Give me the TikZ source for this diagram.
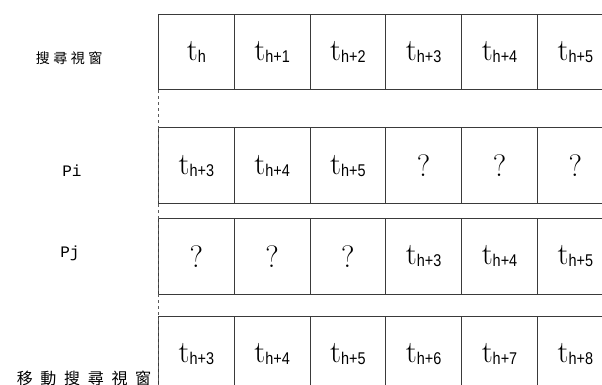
\documentclass[tikz,border=0pt]{standalone}
\usepackage{fontspec}
\usetikzlibrary{positioning}
\newfontfamily\cjk{Noto Sans CJK TC}
\newfontfamily\subfont{Liberation Sans}
\newfontfamily\labfont{Liberation Mono}
\definecolor{GridLine}{HTML}{3A3A3A}
\definecolor{DashLine}{HTML}{5A5A5A}
\newcommand{\tk}[1]{t\raisebox{-2pt}{\scalebox{0.85}[1]{\fontsize{17}{17}\subfont #1}}}
\tikzset{
  cell/.style={draw=GridLine, line width=0.8pt, inner sep=0pt, anchor=north west,
    minimum width=75.8pt, minimum height=75.5pt,
    font=\fontsize{31}{31}\selectfont},
  rowlabel/.style={inner sep=0pt, font=\fontsize{14}{14}\cjk\addfontfeatures{LetterSpace=25}},
  plabel/.style={inner sep=0pt, font=\fontsize{16}{16}\labfont}
}

\begin{document}
\begin{tikzpicture}[x=1pt,y=-1pt]
    \useasboundingbox (0,0) rectangle (602,385);
    \clip (0,0) rectangle (602,385);
    \def\Xo{158}
    \def\Cw{75.8}
    % search window
    \foreach \txt [count=\c] in {\tk{h},\tk{h+1},\tk{h+2},\tk{h+3},\tk{h+4},\tk{h+5}}
      \node[cell] (a\c) at ({\Xo+(\c-1)*\Cw},14) {\txt};
    % Pi
    \foreach \txt [count=\c] in {\tk{h+3},\tk{h+4},\tk{h+5},?,?,?}
      \node[cell] (b\c) at ({\Xo+(\c-1)*\Cw},127.5) {\txt};
    % Pj
    \foreach \txt [count=\c] in {?,?,?,\tk{h+3},\tk{h+4},\tk{h+5}}
      \node[cell] (p\c) at ({\Xo+(\c-1)*\Cw},218) {\txt};
    % moved search window
    \foreach \txt [count=\c] in {\tk{h+3},\tk{h+4},\tk{h+5},\tk{h+6},\tk{h+7},\tk{h+8}}
      \node[cell] (m\c) at ({\Xo+(\c-1)*\Cw},316) {\txt};

    \draw[DashLine, dashed, line width=0.8pt] (a1.south west) -- (m1.south west);

    \node[rowlabel] (win) at (69,58) {搜尋視窗};
    \node[plabel] (pi) at (72,171) {Pi};
    \node[plabel] (pj) at (70,253) {Pj};
    \node[rowlabel, font=\fontsize{16}{16}\cjk\addfontfeatures{LetterSpace=48}] (mwin) at (84,378) {移動搜尋視窗};
\end{tikzpicture}
\end{document}
